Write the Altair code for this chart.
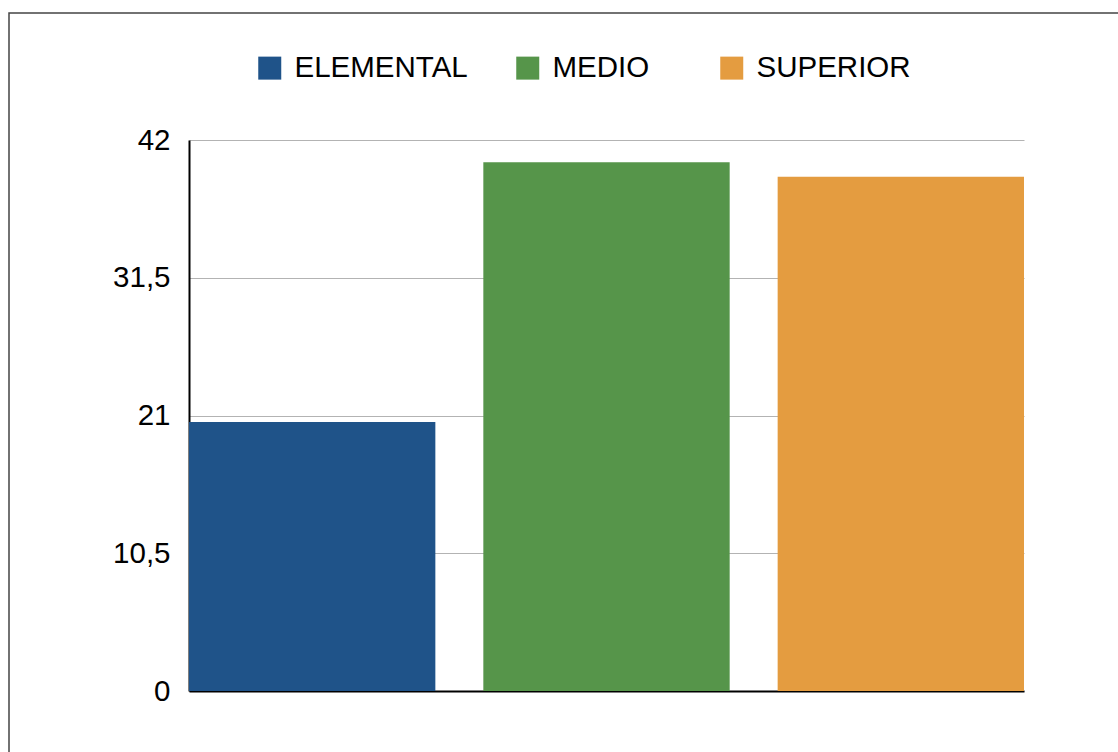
import altair as alt
import pandas as pd

categories = ["ELEMENTAL", "MEDIO", "SUPERIOR"]
values = [20.5, 40.3, 39.2]
colors = ["#1f5389", "#56954a", "#e49c40"]
y_ticks = [0, 10.5, 21, 31.5, 42]

df = pd.DataFrame({"nivel": categories, "valor": values})
frame_df = pd.DataFrame({"f": [0]})

FONT = "Liberation Sans"

frame = alt.Chart(frame_df).mark_rect(
    fillOpacity=0, stroke="#444444", strokeWidth=1.5
).encode(
    x=alt.value(-180), x2=alt.value(960),
    y=alt.value(-127), y2=alt.value(640)
)

bars = alt.Chart(df).mark_bar().encode(
    x=alt.X(
        "nivel:N", sort=categories, title=None,
        scale=alt.Scale(paddingInner=0.163, paddingOuter=0),
        axis=alt.Axis(labels=False, ticks=False, grid=False,
                      domainColor="black", domainWidth=2),
    ),
    y=alt.Y(
        "valor:Q", title=None,
        scale=alt.Scale(domain=[0, 42], nice=False),
        axis=alt.Axis(values=y_ticks, format=".1~f",
                      labelExpr="replace(datum.label, '.', ',')",
                      ticks=False, labelPadding=19, labelFontSize=29.5,
                      labelFont=FONT, labelColor="black",
                      domainColor="black", domainWidth=2,
                      gridColor="#b3b3b3", gridWidth=1),
    ),
    color=alt.Color(
        "nivel:N", title=None,
        scale=alt.Scale(domain=categories, range=colors),
        legend=alt.Legend(
            orient="none", legendX=66, legendY=-87, direction="horizontal",
            symbolType="square", symbolSize=529, symbolStrokeWidth=0,
            symbolOpacity=1, labelFontSize=29.5, labelFont=FONT,
            labelColor="black", labelOffset=10, columnPadding=45,
            labelLimit=400,
            labelExpr="datum.label == 'MEDIO' ? 'MEDIO\\u2800' : datum.label",
        ),
    ),
)

chart = alt.layer(frame, bars).properties(
    width=835, height=551,
    autosize=alt.AutoSizeParams(type="none"),
    padding={"left": 189, "top": 140, "right": 94, "bottom": 61},
    background="white",
).configure_view(stroke=None)

chart.save("out.html", embed_options={"renderer": "svg", "actions": False})
